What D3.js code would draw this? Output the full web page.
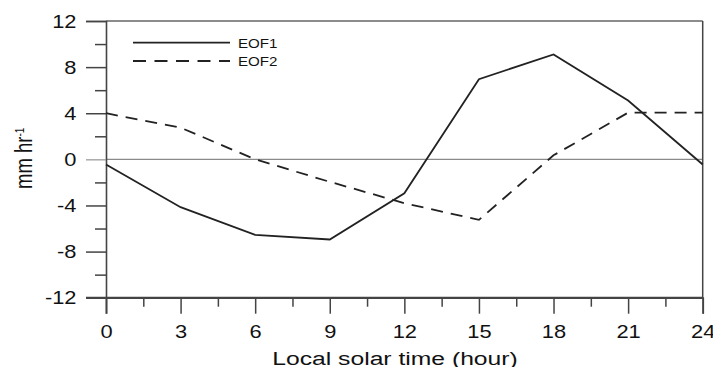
<!DOCTYPE html>
<html><head><meta charset="utf-8">
<script src="https://cdn.jsdelivr.net/npm/d3@7"></script>
<style>body{margin:0;background:#fff}svg{display:block}</style>
</head><body>
<svg id="c" width="713" height="367"></svg>
<script>
const hours = [0, 3, 6, 9, 12, 15, 18, 21, 24];
const eof1 = [-0.45, -4.15, -6.55, -6.95, -2.95, 6.95, 9.1, 5.1, -0.45];
const eof2 = [4.0, 2.75, 0.0, -1.95, -3.8, -5.25, 0.35, 4.05, 4.05];
const xTicks = [0, 3, 6, 9, 12, 15, 18, 21, 24];
const xMinor = [1.5, 4.5, 7.5, 10.5, 13.5, 16.5, 19.5, 22.5];
const yTicks = [12, 8, 4, 0, -4, -8, -12];
const yMinor = [10, 6, 2, -2, -6, -10];
const seriesNames = ["EOF1", "EOF2"];

const svg = d3.select("#c");
const L = 106, R = 702.7, T = 21, B = 297.7;
const x = d3.scaleLinear().domain([0, 24]).range([L, R]);
const y = d3.scaleLinear().domain([-12, 12]).range([B, T]);
const font = "Arial, 'Liberation Sans', sans-serif";
const axisCol = "#444";
const SX = 1.25;
const fmt = d => String(d);

// zero line
svg.append("line").attr("x1", L).attr("x2", R).attr("y1", y(0)).attr("y2", y(0))
  .attr("stroke", "#8a8a8a").attr("stroke-width", 1.1);

// top and right border
svg.append("line").attr("x1", L).attr("x2", R).attr("y1", T).attr("y2", T)
  .attr("stroke", "#666").attr("stroke-width", 1.3);
svg.append("line").attr("x1", R).attr("x2", R).attr("y1", T).attr("y2", B)
  .attr("stroke", axisCol).attr("stroke-width", 1.5);

// y axis
const yAxis = d3.axisLeft(y).tickValues(yTicks).tickSize(20).tickFormat(fmt);
const gy = svg.append("g").attr("transform", `translate(${L},0)`).call(yAxis);
gy.select(".domain").attr("stroke", axisCol).attr("stroke-width", 1.6);
gy.selectAll(".tick line").attr("stroke", axisCol).attr("stroke-width", 1.5);
gy.selectAll(".tick text").attr("x", 0).attr("dy", "0.35em")
  .attr("transform", `translate(-29.5,0) scale(${SX},1)`)
  .attr("font-family", font).attr("font-size", 17.5).attr("fill", "#111");
gy.selectAll(".tick").filter(d => d === 0).select("line").attr("stroke", "#8a8a8a").attr("stroke-width", 1.1);
const gym = svg.append("g").attr("transform", `translate(${L},0)`)
  .call(d3.axisLeft(y).tickValues(yMinor).tickSize(11).tickFormat(""));
gym.select(".domain").remove();
gym.selectAll(".tick line").attr("stroke", axisCol).attr("stroke-width", 1.5);

// x axis
const xAxis = d3.axisBottom(x).tickValues(xTicks).tickSize(16).tickFormat(fmt);
const gx = svg.append("g").attr("transform", `translate(0,${B})`).call(xAxis);
gx.select(".domain").attr("stroke", axisCol).attr("stroke-width", 1.8);
gx.selectAll(".tick line").attr("stroke", axisCol).attr("stroke-width", 1.5);
gx.selectAll(".tick text").attr("y", 40.3).attr("dy", 0)
  .attr("transform", `scale(${SX},1)`)
  .attr("font-family", font).attr("font-size", 17.5).attr("fill", "#111");
const gxm = svg.append("g").attr("transform", `translate(0,${B})`)
  .call(d3.axisBottom(x).tickValues(xMinor).tickSize(9).tickFormat(""));
gxm.select(".domain").remove();
gxm.selectAll(".tick line").attr("stroke", axisCol).attr("stroke-width", 1.5);

// extend bottom axis line left to -12 tick
svg.append("line").attr("x1", L - 20).attr("x2", R).attr("y1", B).attr("y2", B)
  .attr("stroke", axisCol).attr("stroke-width", 1.8);

// series
const line = d3.line().x((d, i) => x(hours[i])).y(d => y(d));
svg.append("path").datum(eof2).attr("d", line).attr("fill", "none")
  .attr("stroke", "#222").attr("stroke-width", 1.8).attr("stroke-dasharray", "12,8");
svg.append("path").datum(eof1).attr("d", line).attr("fill", "none")
  .attr("stroke", "#222").attr("stroke-width", 1.8);

// legend
const lg = svg.append("g");
[0, 1].forEach(i => {
  const yy = 42.7 + i * 18.3;
  lg.append("line").attr("x1", 133).attr("x2", 230).attr("y1", yy).attr("y2", yy)
    .attr("stroke", "#222").attr("stroke-width", 1.8)
    .attr("stroke-dasharray", i === 1 ? "13,8.5" : null);
  lg.append("text").attr("transform", `translate(238,${yy}) scale(1.12,1)`).attr("dy", "0.36em")
    .attr("font-family", font).attr("font-size", 13.5).attr("fill", "#111").text(seriesNames[i]);
});

// axis titles
svg.append("text").attr("transform", `translate(395,365.3) scale(1.3,1)`).attr("text-anchor", "middle")
  .attr("font-family", font).attr("font-size", 19).attr("fill", "#111").text("Local solar time (hour)");
const yt = svg.append("text").attr("transform", "translate(31.5,158.3) rotate(-90) scale(1,1.3)").attr("text-anchor", "middle")
  .attr("font-family", font).attr("font-size", 18.5).attr("fill", "#111");
yt.append("tspan").text("mm hr");
yt.append("tspan").attr("dy", "-0.55em").attr("font-size", 10).text("-1");
</script>
</body></html>
